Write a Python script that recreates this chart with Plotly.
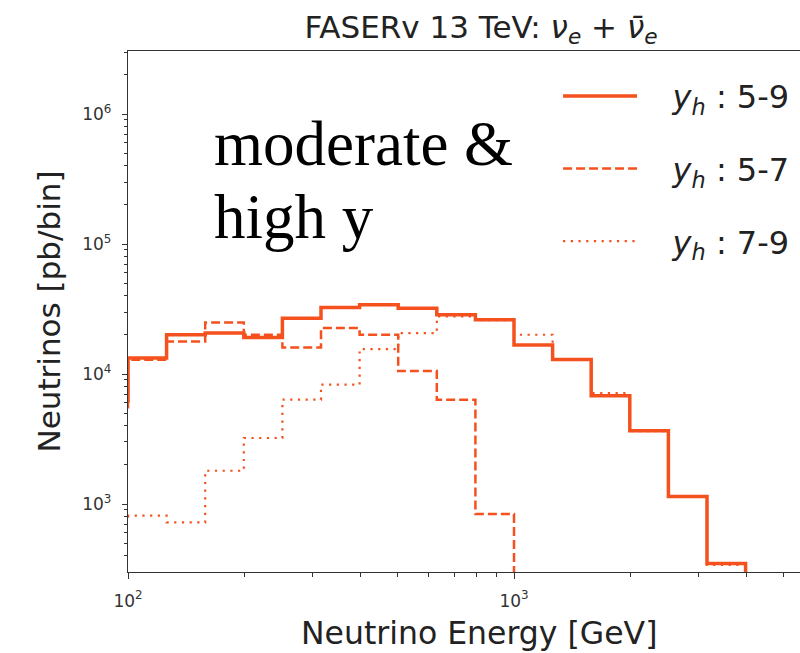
import plotly.graph_objects as go

# ---- data ----
bin_edges = [79.43, 100.0, 125.89, 158.49, 199.53, 251.19, 316.23, 398.11, 501.19,
             630.96, 794.33, 1000.0, 1258.93, 1584.89, 1995.26, 2511.89, 3162.28,
             3981.07, 5011.87, 6309.57]
# y_h : 5-9 (solid)
yh_5_9 = [6200, 13270, 20050, 20650, 19140, 26800, 32500, 34100, 32000, 28570,
          26200, 16700, 12950, 6810, 3665, 1143, 349, 90, 30]
# y_h : 5-7 (dashed)
yh_5_7 = [5400, 12900, 17800, 24900, 20050, 16030, 22590, 20050, 10550, 6345,
          838, 150, 50, 20, 10, 5, 2, 1, 1]
# y_h : 7-9 (dotted)
yh_7_9 = [800, 813, 722, 1803, 3220, 6345, 8280, 15560, 20650, 27700,
          26000, 20050, 12900, 7140, 3640, 1140, 340, 90, 30]

NB = "\u00a0"
labels = [NB * 3 + "<i>y</i><sub><i>h</i></sub> : 5-9",
          NB * 3 + "<i>y</i><sub><i>h</i></sub> : 5-7",
          NB * 3 + "<i>y</i><sub><i>h</i></sub> : 7-9"]

color = "#F4511E"
FONT = "DejaVu Sans"

fig = go.Figure()

def step_trace(vals, name, dash, width, rank):
    y = list(vals) + [vals[-1]]
    return go.Scatter(x=bin_edges, y=y, mode="lines", line_shape="hv",
                      line=dict(color=color, width=width, dash=dash),
                      name=name, legendgroup=name, legendrank=rank)

fig.add_trace(step_trace(yh_7_9, labels[2], "2.2px,5.5px", 2.2, 3))
fig.add_trace(step_trace(yh_5_7, labels[1], "9px,4px", 2.5, 2))
fig.add_trace(step_trace(yh_5_9, labels[0], "solid", 3.5, 1))

W, H = 800, 653
L, R, T, B = 128, 0, 51, 81
pa_h = H - T - B

fig.update_layout(
    width=W, height=H,
    margin=dict(l=L, r=R, t=T, b=B),
    paper_bgcolor="white", plot_bgcolor="white",
    font=dict(family=FONT, color="#222"),
    showlegend=True,
    legend=dict(x=0.64, y=0.966, xanchor="left", yanchor="top",
                font=dict(size=32, family=FONT, color="#222"),
                bgcolor="rgba(0,0,0,0)", borderwidth=0,
                traceorder="grouped", tracegroupgap=28, itemwidth=74),
    title=dict(text="FASERv 13 TeV: <i>ν</i><sub><i>e</i></sub> + <i>ν̄</i><sub><i>e</i></sub>",
               x=481 / W, xref="container", xanchor="center",
               y=1 - 27 / H, yref="container", yanchor="middle",
               font=dict(size=31, family=FONT, color="#222")),
)

fig.update_xaxes(
    type="log", range=[2, 2 + (W - L) / 386.0],
    showgrid=False, zeroline=False,
    showline=True, linecolor="#333", linewidth=1.3, mirror=True,
    ticks="outside", ticklen=6, tickwidth=1.2, tickcolor="#333",
    tickvals=[100, 1000], ticktext=["10<sup>2</sup>", "10<sup>3</sup>"],
    tickfont=dict(size=17, family=FONT, color="#333"),
    ticklabelstandoff=7,
    minor=dict(ticks="outside", ticklen=3.5, tickwidth=1, tickcolor="#333",
               tickvals=[200, 300, 400, 500, 600, 700, 800, 900,
                         2000, 3000, 4000, 5000]),
)
fig.update_yaxes(
    type="log", range=[2.477, 6.485],
    showgrid=False, zeroline=False,
    showline=True, linecolor="#333", linewidth=1.3, mirror=False,
    ticks="outside", ticklen=5, tickwidth=1.2, tickcolor="#333",
    tickvals=[1e3, 1e4, 1e5, 1e6],
    ticktext=["10<sup>3</sup>", "10<sup>4</sup>", "10<sup>5</sup>", "10<sup>6</sup>"],
    tickfont=dict(size=17, family=FONT, color="#333"),
    ticklabelstandoff=7,
    minor=dict(ticks="outside", ticklen=3, tickwidth=1, tickcolor="#333",
               tickvals=[400, 500, 600, 700, 800, 900,
                         2000, 3000, 4000, 5000, 6000, 7000, 8000, 9000,
                         20000, 30000, 40000, 50000, 60000, 70000, 80000, 90000,
                         200000, 300000, 400000, 500000, 600000, 700000, 800000, 900000,
                         2000000, 3000000]),
    title=dict(text="Neutrinos [pb/bin]", font=dict(size=31, family=FONT, color="#222"),
               standoff=12),
)

# x-axis label (centered on the full original axes width)
fig.add_annotation(text="Neutrino Energy [GeV]", xref="paper", yref="paper",
                   x=(479 - L) / (W - L), y=-(633 - 572) / pa_h,
                   xanchor="center", yanchor="middle", showarrow=False,
                   font=dict(size=31.5, family=FONT, color="#222"))

# overlay text
fig.add_annotation(text="moderate &", xref="paper", yref="paper",
                   x=(212 - L) / (W - L), y=1 - (107 - T) / pa_h,
                   xanchor="left", yanchor="top", showarrow=False,
                   font=dict(size=63, family="Liberation Serif", color="black"))
fig.add_annotation(text="high y", xref="paper", yref="paper",
                   x=(212 - L) / (W - L), y=1 - (180 - T) / pa_h,
                   xanchor="left", yanchor="top", showarrow=False,
                   font=dict(size=63, family="Liberation Serif", color="black"))

fig.write_html("out.html")
